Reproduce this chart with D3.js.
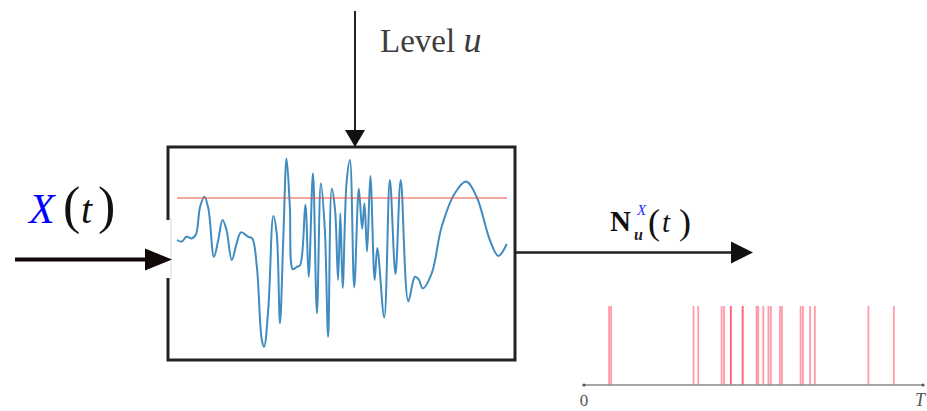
<!DOCTYPE html>
<html>
<head>
<meta charset="utf-8">
<script src="https://cdn.jsdelivr.net/npm/d3@7"></script>
<style>
  html, body { margin: 0; padding: 0; background: #fff; }
  svg { display: block; }
</style>
</head>
<body>
<svg id="chart" width="927" height="411"></svg>
<script>
// ---- data ----
const signalT = [0, 0.14, 0.29, 0.45, 0.57, 0.70, 0.83, 0.95, 1.12, 1.25, 1.38, 1.50, 1.66, 1.81, 1.94, 2.16, 2.28,
  2.42, 2.57, 2.64, 2.77, 2.92, 3.02, 3.12, 3.22, 3.32, 3.42, 3.51, 3.63, 3.73, 3.89, 3.99, 4.12, 4.24, 4.36, 4.48,
  4.58, 4.69, 4.79, 4.88, 4.95, 5.02, 5.14, 5.24, 5.37, 5.51, 5.61, 5.68, 5.76, 5.86, 5.99, 6.07, 6.28, 6.45, 6.62,
  6.78, 7.01, 7.21, 7.32, 7.45, 7.72, 8.02, 8.42, 8.76, 9.08, 9.48, 9.74, 9.99];
const signalV = [0.25, 0.21, 0.33, 0.29, 0.38, 1.08, 1.33, 1.04, -0.17, 0.25, 0.75, 0.50, -0.25, 0.17, 0.44, 0.33, 0.29,
  -0.42, -2.25, -2.42, -1.42, 0.85, 0.42, -1.83, 0.25, 2.29, 1.08, -0.48, -0.42, -0.38, 1.13, -0.67, 1.92, -1.58, 1.67, 0.50,
  -2.17, 1.53, 1.00, -0.75, 0.92, -0.95, 1.70, 2.25, -0.93, 1.53, 0.53, 1.17, -0.04, 1.85, -0.75, 0.05, -1.69, 1.75, -0.60,
  1.75, -1.28, -0.67, -0.73, -0.96, -0.58, 0.58, 1.42, 1.71, 1.33, 0.25, -0.15, 0.15];
const levelU = 1.3;
const spikeTimes = [0.74, 0.80, 3.23, 3.37, 4.06, 4.13, 4.33, 4.33, 4.68, 4.68, 5.09, 5.14, 5.29, 5.44, 5.51,
  5.78, 5.84, 6.39, 6.46, 6.67, 6.81, 8.39, 9.14];
const spikeAxisLabels = ["0", "T"];

// ---- drawing ----
const svg = d3.select("#chart");
const serif = "Liberation Serif, DejaVu Serif, serif";

function arrowHead(x, y, dir, len, half, color) {
  let p;
  if (dir === "right") p = [[x, y], [x - len, y - half], [x - len, y + half]];
  else p = [[x, y], [x - half, y - len], [x + half, y - len]];
  svg.append("path").attr("d", "M" + p.join("L") + "Z").attr("fill", color);
}

// box
const box = { x: 168, y: 147, w: 347, h: 213 };
svg.append("rect").attr("x", box.x).attr("y", box.y).attr("width", box.w).attr("height", box.h)
  .attr("fill", "#fff").attr("stroke", "#222").attr("stroke-width", 3);
svg.append("rect").attr("x", box.x - 3).attr("y", 220).attr("width", 5).attr("height", 58).attr("fill", "#fff");
svg.append("line").attr("x1", 171).attr("x2", 171).attr("y1", 218).attr("y2", 280)
  .attr("stroke", "#d8d8d8").attr("stroke-width", 1);

// signal scales
const x = d3.scaleLinear().domain([0, 10]).range([177, 507]);
const y = d3.scaleLinear().domain([-2.5, 2.5]).range([350, 150]);

const line = d3.line().x((d, i) => x(signalT[i])).y(d => y(d)).curve(d3.curveCatmullRom.alpha(0.5));
svg.append("path").datum(signalV).attr("d", line)
  .attr("fill", "none").attr("stroke", "#1f77b4").attr("stroke-width", 2).attr("stroke-opacity", 0.85)
  .attr("stroke-linejoin", "round");

svg.append("line").attr("x1", x(0)).attr("x2", x(10)).attr("y1", y(levelU)).attr("y2", y(levelU))
  .attr("stroke", "#e8523f").attr("stroke-opacity", 0.5).attr("stroke-width", 1.8);

// top arrow (Level u)
svg.append("line").attr("x1", 355).attr("x2", 355).attr("y1", 11).attr("y2", 132)
  .attr("stroke", "#222").attr("stroke-width", 2);
arrowHead(355, 147, "down", 17, 10, "#111");
const lev = svg.append("text").attr("x", 380).attr("y", 52)
  .attr("font-family", serif).attr("font-size", 33).attr("fill", "#3c3c3c");
lev.append("tspan").text("Level ");
lev.append("tspan").attr("font-style", "italic").attr("font-size", 36).text("u");

// left arrow (input)
svg.append("line").attr("x1", 15).attr("x2", 148).attr("y1", 259.5).attr("y2", 259.5)
  .attr("stroke", "#130808").attr("stroke-width", 4);
arrowHead(172, 259.5, "right", 27, 11, "#130808");

// X(t)
const xt = svg.append("text").attr("x", 29).attr("y", 223).attr("font-family", serif).attr("fill", "#111");
xt.append("tspan").attr("font-style", "italic").attr("font-size", 42).attr("fill", "#0000ff").text("X");
xt.append("tspan").attr("x", 63).attr("font-size", 52).text("(");
xt.append("tspan").attr("x", 81).attr("font-style", "italic").attr("font-size", 40).text("t");
xt.append("tspan").attr("x", 98).attr("font-size", 52).text(")");

// right arrow (output)
svg.append("line").attr("x1", 515).attr("x2", 734).attr("y1", 252.5).attr("y2", 252.5)
  .attr("stroke", "#222").attr("stroke-width", 2.5);
arrowHead(753, 252.5, "right", 22, 11, "#111");

// N_u^X(t)
const nt = svg.append("text").attr("x", 610).attr("y", 231).attr("font-family", serif).attr("fill", "#111");
nt.append("tspan").attr("font-weight", "bold").attr("font-size", 29).text("N");
nt.append("tspan").attr("x", 637).attr("y", 215).attr("font-style", "italic").attr("font-size", 15)
  .attr("fill", "#2a2aff").text("X");
nt.append("tspan").attr("x", 634).attr("y", 240).attr("font-style", "italic").attr("font-weight", "bold")
  .attr("font-size", 16).attr("fill", "#222").text("u");
nt.append("tspan").attr("x", 648).attr("y", 234).attr("font-size", 36).text("(");
nt.append("tspan").attr("x", 662).attr("y", 232).attr("font-style", "italic").attr("font-size", 29).text("t");
nt.append("tspan").attr("x", 679).attr("y", 234).attr("font-size", 36).text(")");

// spike train
const sx = d3.scaleLinear().domain([0, 10]).range([584, 923]);
const sy = d3.scaleLinear().domain([0, 1]).range([385, 306]);
svg.append("g").selectAll("line").data(spikeTimes).join("line")
  .attr("x1", d => sx(d)).attr("x2", d => sx(d)).attr("y1", sy(0)).attr("y2", sy(1))
  .attr("stroke", "#ff1f40").attr("stroke-opacity", 0.45).attr("stroke-width", 1.8);

svg.append("line").attr("x1", sx(0)).attr("x2", sx(10)).attr("y1", sy(0)).attr("y2", sy(0))
  .attr("stroke", "#8a8a8a").attr("stroke-width", 1.5);
svg.selectAll("circle.end").data([0, 10]).join("circle").attr("class", "end")
  .attr("cx", d => sx(d)).attr("cy", sy(0)).attr("r", 1.6).attr("fill", "#555");

svg.append("text").attr("x", sx(0)).attr("y", 406).attr("text-anchor", "middle")
  .attr("font-family", serif).attr("font-size", 17).attr("fill", "#555").text(spikeAxisLabels[0]);
svg.append("text").attr("x", sx(10) - 3).attr("y", 406).attr("text-anchor", "middle")
  .attr("font-family", serif).attr("font-style", "italic").attr("font-size", 18).attr("fill", "#555").text(spikeAxisLabels[1]);
</script>
</body>
</html>
